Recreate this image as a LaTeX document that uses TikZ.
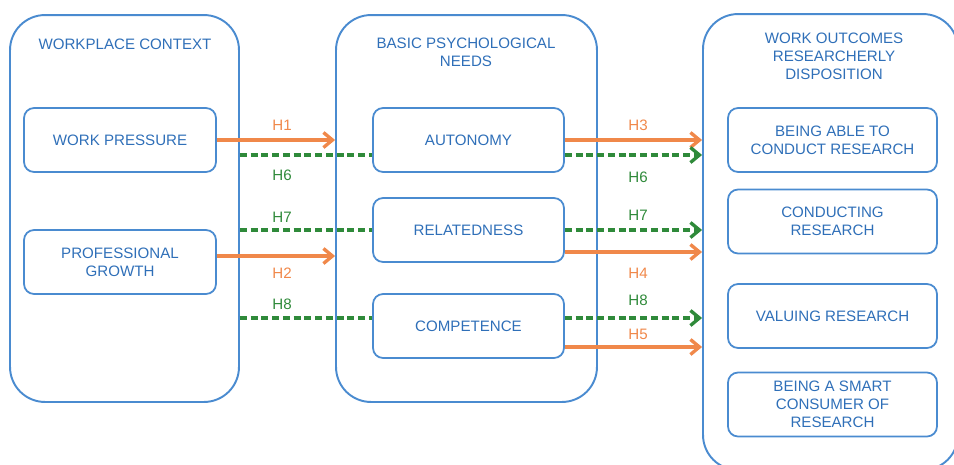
\documentclass[tikz,border=0pt]{standalone}
\usepackage{fontspec}
\setmainfont{Liberation Sans}
\usetikzlibrary{arrows.meta}
\definecolor{boxblue}{HTML}{4A8BD0}
\definecolor{textblue}{HTML}{2F6FB8}
\definecolor{hyporange}{HTML}{F0884A}
\definecolor{hypgreen}{HTML}{2F8A3A}
\tikzset{
  panel/.style={draw=boxblue, line width=1.1pt, rounded corners=0.7cm, inner sep=0pt},
  varbox/.style={draw=boxblue, line width=1pt, rounded corners=0.2cm, align=center,
    text=textblue, minimum height=1.28cm, inner sep=2pt},
  paneltitle/.style={align=center, text=textblue},
  hyp/.style={hyporange, line width=1.9pt, -{Straight Barb[length=0.18cm,width=0.3cm]}},
  medline/.style={hypgreen, line width=1.9pt, dash pattern=on 0.14cm off 0.075cm},
  medarrow/.style={medline, -{Straight Barb[length=0.18cm,width=0.3cm]}},
  hlab/.style={inner sep=1pt}
}
\begin{document}
\begin{tikzpicture}[x=0.02cm,y=-0.02cm,font=\fontsize{8.6}{10.2}\selectfont]
\clip (0,0) rectangle (954,464);

% panels
\node[panel, minimum width=4.58cm, minimum height=7.74cm] (context) at (124.5,208.5) {};
\node[panel, minimum width=5.22cm, minimum height=7.74cm] (needs) at (466.5,208.5) {};
\node[panel, minimum width=5.1cm, minimum height=9.12cm] (outcomes) at (830.5,242) {};

\node[paneltitle] (ctxtitle) at (125,44) {WORKPLACE CONTEXT};
\node[paneltitle] (needtitle) at (466,52) {BASIC PSYCHOLOGICAL\\NEEDS};
\node[paneltitle] (outtitle) at (834,56) {WORK OUTCOMES\\RESEARCHERLY\\DISPOSITION};

% variables
\node[varbox, minimum width=3.84cm] (press) at (120,140) {WORK PRESSURE};
\node[varbox, minimum width=3.84cm] (growth) at (120,262) {PROFESSIONAL\\GROWTH};

\node[varbox, minimum width=3.82cm] (auto) at (468.5,140) {AUTONOMY};
\node[varbox, minimum width=3.82cm] (relat) at (468.5,230) {RELATEDNESS};
\node[varbox, minimum width=3.82cm] (compet) at (468.5,326) {COMPETENCE};

\node[varbox, minimum width=4.18cm] (able) at (832.5,140) {BEING ABLE TO\\CONDUCT RESEARCH};
\node[varbox, minimum width=4.18cm] (conduct) at (832.5,221.5) {CONDUCTING\\RESEARCH};
\node[varbox, minimum width=4.18cm] (valuing) at (832.5,316) {VALUING RESEARCH};
\node[varbox, minimum width=4.18cm] (consumer) at (832.5,404.5) {BEING A SMART\\CONSUMER OF\\RESEARCH};

% context -> needs
\coordinate (a6) at ([yshift=-0.3cm]auto.west);
\coordinate (g2) at ([yshift=0.12cm]growth.east);
\coordinate (c8) at ([yshift=0.16cm]compet.west);
\draw[hyp] (press.east) -- (press.east -| needs.west);
\draw[medline] (a6 -| context.east) -- (a6);
\draw[medline] (relat.west -| context.east) -- (relat.west);
\draw[hyp] (g2) -- (g2 -| needs.west);
\draw[medline] (c8 -| context.east) -- (c8);

% needs -> outcomes
\coordinate (a6r) at ([yshift=-0.3cm]auto.east);
\coordinate (r4) at ([yshift=-0.44cm]relat.east);
\coordinate (c8r) at ([yshift=0.16cm]compet.east);
\coordinate (c5) at ([yshift=-0.42cm]compet.east);
\draw[hyp] (auto.east) -- (auto.east -| outcomes.west);
\draw[medarrow] (a6r) -- (a6r -| outcomes.west);
\draw[medarrow] (relat.east) -- (relat.east -| outcomes.west);
\draw[hyp] (r4) -- (r4 -| outcomes.west);
\draw[medarrow] (c8r) -- (c8r -| outcomes.west);
\draw[hyp] (c5) -- (c5 -| outcomes.west);

% hypothesis labels
\node[hlab, text=hyporange] (lh1) at (282,125) {H1};
\node[hlab, text=hypgreen] (lh6) at (282,175) {H6};
\node[hlab, text=hypgreen] (lh7) at (282,217) {H7};
\node[hlab, text=hyporange] (lh2) at (282,273) {H2};
\node[hlab, text=hypgreen] (lh8) at (282,304) {H8};

\node[hlab, text=hyporange] (rh3) at (638,125) {H3};
\node[hlab, text=hypgreen] (rh6) at (638,177) {H6};
\node[hlab, text=hypgreen] (rh7) at (638,215) {H7};
\node[hlab, text=hyporange] (rh4) at (638,273) {H4};
\node[hlab, text=hypgreen] (rh8) at (638,300) {H8};
\node[hlab, text=hyporange] (rh5) at (638,334) {H5};
\end{tikzpicture}
\end{document}
